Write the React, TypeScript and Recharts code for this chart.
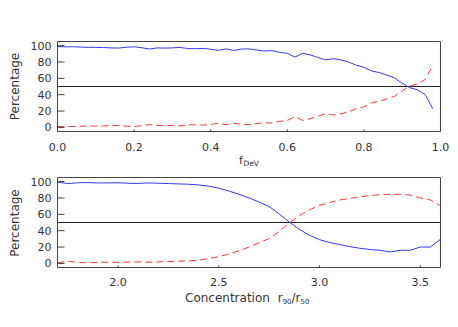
import React from 'react';
import { LineChart, Line, XAxis, YAxis, ReferenceLine } from 'recharts';

// ---- top panel: fraction of de Vaucouleurs profile ----
const fdevBins = [
  0.0, 0.02, 0.04, 0.06, 0.08, 0.1, 0.12, 0.14, 0.16, 0.18,
  0.2, 0.22, 0.24, 0.26, 0.28, 0.3, 0.32, 0.34, 0.36, 0.38,
  0.4, 0.42, 0.44, 0.46, 0.48, 0.5, 0.52, 0.54, 0.56, 0.58,
  0.6, 0.62, 0.64, 0.66, 0.68, 0.7, 0.72, 0.74, 0.76, 0.78,
  0.8, 0.82, 0.84, 0.86, 0.88, 0.9, 0.92, 0.94, 0.96, 0.98,
];
const fdevSolid = [
  98.8, 98.5, 98.6, 98.2, 97.9, 97.8, 97.6, 97.2, 97.0, 98.0,
  98.6, 97.4, 95.8, 97.2, 97.0, 97.2, 97.8, 96.4, 96.2, 96.6,
  95.6, 94.2, 96.0, 94.0, 95.8, 96.0, 94.6, 93.4, 93.8, 91.8,
  90.6, 86.0, 90.6, 88.6, 85.5, 82.5, 84.0, 82.5, 80.0, 76.0,
  73.5, 69.0, 67.0, 64.0, 60.5, 54.0, 48.5, 46.0, 40.0, 23.0,
];
const fdevDashed = [
  1.0, 1.2, 1.0, 1.4, 1.6, 1.6, 1.8, 2.2, 2.4, 1.4,
  1.0, 2.0, 3.4, 2.2, 2.4, 2.2, 1.8, 3.0, 3.2, 2.8,
  3.6, 5.0, 3.4, 5.2, 3.6, 3.2, 4.6, 5.6, 5.4, 7.4,
  8.6, 13.0, 8.6, 10.6, 13.6, 16.8, 15.0, 16.6, 18.8, 23.0,
  25.0, 30.0, 32.0, 34.8, 38.0, 44.6, 50.5, 53.0, 58.6, 76.0,
];

// ---- bottom panel: concentration r90/r50 ----
const concBins = [
  1.7, 1.75, 1.8, 1.85, 1.9, 1.95, 2.0, 2.05, 2.1, 2.15,
  2.2, 2.25, 2.3, 2.35, 2.4, 2.45, 2.5, 2.55, 2.6, 2.65,
  2.7, 2.75, 2.8, 2.85, 2.9, 2.95, 3.0, 3.05, 3.1, 3.15,
  3.2, 3.25, 3.3, 3.35, 3.4, 3.45, 3.5, 3.55, 3.6,
];
const concSolid = [
  99.5, 97.5, 98.6, 98.8, 98.4, 98.4, 98.6, 98.0, 97.8, 98.4,
  98.0, 97.6, 97.2, 96.8, 96.0, 94.4, 92.0, 88.5, 84.5, 80.0,
  75.0, 69.5, 60.5, 50.5, 41.5, 34.5, 29.0, 25.5, 23.0, 20.5,
  18.5, 17.0, 16.0, 14.0, 16.0, 16.0, 20.0, 20.0, 29.5,
];
const concDashed = [
  0.5, 2.8, 1.2, 0.8, 1.2, 1.4, 1.2, 1.6, 1.8, 1.4,
  1.8, 2.2, 2.6, 3.0, 4.0, 5.8, 8.2, 11.5, 15.5, 20.0,
  25.0, 30.5, 39.0, 49.5, 58.5, 65.5, 71.0, 74.5, 77.5, 79.5,
  81.5, 83.0, 84.0, 84.5, 84.5, 83.5, 80.0, 77.5, 70.5,
];

// ---- tick labels / positions ----
const fdevMajorTicks = [0.0, 0.2, 0.4, 0.6, 0.8, 1.0];
const fdevMinorTicks = [
  0.0, 0.05, 0.1, 0.15, 0.2, 0.25, 0.3, 0.35, 0.4, 0.45, 0.5,
  0.55, 0.6, 0.65, 0.7, 0.75, 0.8, 0.85, 0.9, 0.95, 1.0,
];
const concMajorTicks = [2.0, 2.5, 3.0, 3.5];
const concMinorTicks = [
  1.7, 1.8, 1.9, 2.0, 2.1, 2.2, 2.3, 2.4, 2.5, 2.6,
  2.7, 2.8, 2.9, 3.0, 3.1, 3.2, 3.3, 3.4, 3.5, 3.6,
];
const pctMajorTicks = [0, 20, 40, 60, 80, 100];
const pctMinorTicks = [
  -5, 0, 5, 10, 15, 20, 25, 30, 35, 40, 45, 50, 55,
  60, 65, 70, 75, 80, 85, 90, 95, 100, 105,
];

const fdevData = fdevBins.map((x, i) => ({ x, solid: fdevSolid[i], dashed: fdevDashed[i] }));
const concData = concBins.map((x, i) => ({ x, solid: concSolid[i], dashed: concDashed[i] }));

const FONT = '"DejaVu Sans", sans-serif';
const AXIS = '#404040';
const TEXT = '#333333';
const BLUE = '#3636ff';
const RED = '#ff3636';
const THIN = 0.01;

type PanelProps = {
  data: { x: number; solid: number; dashed: number }[];
  xDomain: [number, number];
  xMajor: number[];
  xMinor: number[];
  height: number;
  margin: { top: number; right: number; bottom: number; left: number };
  xTickMargin: number;
};

function Panel({ data, xDomain, xMajor, xMinor, height, margin, xTickMargin }: PanelProps) {
  const tickStyle = { fontSize: 11, fill: TEXT, fontFamily: FONT };
  return (
    <LineChart width={458} height={height} data={data} margin={margin}>
      <XAxis
        xAxisId={0}
        type="number"
        dataKey="x"
        domain={xDomain}
        ticks={xMajor}
        interval={0}
        allowDataOverflow
        height={THIN}
        stroke={AXIS}
        tickSize={-2}
        tickMargin={xTickMargin}
        tick={tickStyle}
        tickFormatter={(v: number) => v.toFixed(1)}
      />
      <XAxis
        xAxisId="bm"
        type="number"
        dataKey="x"
        domain={xDomain}
        ticks={xMinor}
        interval={0}
        allowDataOverflow
        height={THIN}
        stroke={AXIS}
        tickSize={-1}
        tick={false}
        axisLine={false}
      />
      <XAxis
        xAxisId="t"
        orientation="top"
        type="number"
        dataKey="x"
        domain={xDomain}
        ticks={xMajor}
        interval={0}
        allowDataOverflow
        height={THIN}
        stroke={AXIS}
        tickSize={-2}
        tick={false}
      />
      <XAxis
        xAxisId="tm"
        orientation="top"
        type="number"
        dataKey="x"
        domain={xDomain}
        ticks={xMinor}
        interval={0}
        allowDataOverflow
        height={THIN}
        stroke={AXIS}
        tickSize={-1}
        tick={false}
        axisLine={false}
      />
      <YAxis
        yAxisId={0}
        type="number"
        domain={[-5, 105]}
        ticks={pctMajorTicks}
        interval={0}
        allowDataOverflow
        width={THIN}
        stroke={AXIS}
        tickSize={-7}
        tickMargin={13}
        tick={tickStyle}
      />
      <YAxis
        yAxisId="lm"
        type="number"
        domain={[-5, 105]}
        ticks={pctMinorTicks}
        interval={0}
        allowDataOverflow
        width={THIN}
        stroke={AXIS}
        tickSize={-3.5}
        tick={false}
        axisLine={false}
      />
      <YAxis
        yAxisId="r"
        orientation="right"
        type="number"
        domain={[-5, 105]}
        ticks={pctMajorTicks}
        interval={0}
        allowDataOverflow
        width={THIN}
        stroke={AXIS}
        tickSize={-7}
        tick={false}
      />
      <YAxis
        yAxisId="rm"
        orientation="right"
        type="number"
        domain={[-5, 105]}
        ticks={pctMinorTicks}
        interval={0}
        allowDataOverflow
        width={THIN}
        stroke={AXIS}
        tickSize={-3.5}
        tick={false}
        axisLine={false}
      />
      <ReferenceLine y={50} stroke="#222222" strokeWidth={1} />
      <Line
        type="linear"
        dataKey="solid"
        stroke={BLUE}
        strokeWidth={1}
        dot={false}
        activeDot={false}
        isAnimationActive={false}
      />
      <Line
        type="linear"
        dataKey="dashed"
        stroke={RED}
        strokeWidth={1}
        strokeDasharray="7 4"
        dot={false}
        activeDot={false}
        isAnimationActive={false}
      />
    </LineChart>
  );
}

export default function App() {
  return (
    <div
      style={{
        position: 'absolute',
        left: 0,
        top: 0,
        width: 458,
        height: 327,
        background: '#ffffff',
        overflow: 'hidden',
      }}
    >
      <div style={{ position: 'absolute', left: 0, top: 0 }}>
        <Panel
          data={fdevData}
          xDomain={[0, 1]}
          xMajor={fdevMajorTicks}
          xMinor={fdevMinorTicks}
          height={160}
          margin={{ top: 41.5, right: 17.5, bottom: 28.5, left: 57.5 }}
          xTickMargin={14}
        />
      </div>
      <div style={{ position: 'absolute', left: 0, top: 160 }}>
        <Panel
          data={concData}
          xDomain={[1.7, 3.6]}
          xMajor={concMajorTicks}
          xMinor={concMinorTicks}
          height={167}
          margin={{ top: 17.5, right: 17.5, bottom: 59.5, left: 57.5 }}
          xTickMargin={13}
        />
      </div>
      <svg
        width={458}
        height={327}
        style={{ position: 'absolute', left: 0, top: 0, pointerEvents: 'none' }}
      >
        <text
          transform="translate(19,86.5) rotate(-90)"
          textAnchor="middle"
          fontSize={12}
          fontFamily={FONT}
          fill={TEXT}
        >
          Percentage
        </text>
        <text
          transform="translate(19,223) rotate(-90)"
          textAnchor="middle"
          fontSize={12}
          fontFamily={FONT}
          fill={TEXT}
        >
          Percentage
        </text>
        <text x={239} y={164.3} fontSize={11} fontFamily={FONT} fill={TEXT}>
          f
          <tspan dx={0.5} dy={1.8} fontSize={7.5}>
            DeV
          </tspan>
        </text>
        <text x={185} y={301.7} fontSize={12} fontFamily={FONT} fill={TEXT}>
          Concentration
          <tspan x={277.7}>r</tspan>
          <tspan dy={2.6} fontSize={7}>
            90
          </tspan>
          <tspan dy={-2.6}>/r</tspan>
          <tspan dy={2.6} fontSize={7}>
            50
          </tspan>
        </text>
      </svg>
    </div>
  );
}
